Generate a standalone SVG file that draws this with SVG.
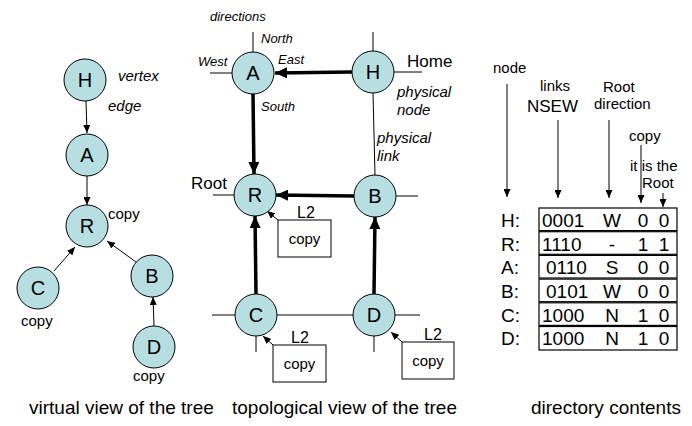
<svg xmlns="http://www.w3.org/2000/svg" width="692" height="426" viewBox="0 0 692 426">
  <defs>
    <marker id="thin" markerUnits="userSpaceOnUse" markerWidth="8" markerHeight="7" refX="8" refY="3.5" orient="auto">
      <path d="M0,0 L8,3.5 L0,7 z" fill="#000"/>
    </marker>
    <marker id="thick" markerUnits="userSpaceOnUse" markerWidth="12" markerHeight="11" refX="12" refY="5.5" orient="auto">
      <path d="M0,0 L12,5.5 L0,11 z" fill="#000"/>
    </marker>
  </defs>
  <style>
    text { font-family: "Liberation Sans", Arial, sans-serif; fill: #000; }
    .node circle { fill: #b7dfe2; stroke: #000; stroke-width: 1; }
    .node text { font-size: 20px; text-anchor: middle; }
    .lbl { font-size: 15px; }
    .it { font-size: 15px; font-style: italic; }
    .dir { font-size: 13px; font-style: italic; }
    .big { font-size: 17px; }
    .l2 { font-size: 16px; }
    .cap { font-size: 19px; }
    .cell { font-size: 19px; }
    .thinArrow { stroke: #000; stroke-width: 1; fill: none; marker-end: url(#thin); }
    .thickArrow { stroke: #000; stroke-width: 3.5; fill: none; marker-end: url(#thick); }
    .link { stroke: #000; stroke-width: 1; fill: none; }
    .box { fill: #fff; stroke: #000; stroke-width: 1; }
    .row { fill: #fff; stroke: #000; stroke-width: 1.2; }
  </style>

  <rect width="692" height="426" fill="#fff"/>

  <!-- Virtual tree: edges -->
  <g id="virtual-edges">
    <line class="thinArrow" x1="86" y1="101" x2="87" y2="133"/>
    <line class="thinArrow" x1="87" y1="176" x2="87" y2="205"/>
    <line class="thinArrow" x1="54" y1="271" x2="75" y2="247"/>
    <line class="thinArrow" x1="136" y1="262" x2="107" y2="241"/>
    <line class="thinArrow" x1="154" y1="326" x2="153" y2="297"/>
  </g>

  <!-- Virtual tree: vertices -->
  <g id="v-H" class="node"><circle cx="85" cy="80" r="21"/><text x="85" y="87">H</text></g>
  <g id="v-A" class="node"><circle cx="87" cy="155" r="21"/><text x="87" y="162">A</text></g>
  <g id="v-R" class="node"><circle cx="87" cy="226" r="21"/><text x="87" y="233">R</text></g>
  <g id="v-C" class="node"><circle cx="38" cy="288" r="21"/><text x="38" y="295">C</text></g>
  <g id="v-B" class="node"><circle cx="152" cy="276" r="21"/><text x="152" y="283">B</text></g>
  <g id="v-D" class="node"><circle cx="154" cy="347" r="21"/><text x="154" y="354">D</text></g>

  <g id="virtual-labels">
    <text class="it" x="118" y="81">vertex</text>
    <text class="it" x="108" y="111">edge</text>
    <text class="lbl" x="108" y="219">copy</text>
    <text class="lbl" x="21" y="326">copy</text>
    <text class="lbl" x="133" y="381">copy</text>
  </g>

  <!-- Topological view: physical links and stubs -->
  <g id="physical-links">
    <line class="link" x1="253" y1="32" x2="253" y2="52"/>
    <line class="link" x1="210" y1="73" x2="232" y2="73"/>
    <line class="link" x1="373" y1="32" x2="373" y2="51"/>
    <line class="link" x1="394" y1="72" x2="422" y2="72"/>
    <line class="link" x1="373" y1="93" x2="375" y2="175"/>
    <line class="link" x1="213" y1="195" x2="234" y2="195"/>
    <line class="link" x1="396" y1="196" x2="418" y2="196"/>
    <line class="link" x1="212" y1="315" x2="235" y2="315"/>
    <line class="link" x1="256" y1="336" x2="256" y2="352"/>
    <line class="link" x1="277" y1="315" x2="353" y2="315"/>
    <line class="link" x1="395" y1="315" x2="420" y2="315"/>
    <line class="link" x1="374" y1="336" x2="374" y2="352"/>
  </g>

  <!-- Topological view: tree edges (toward root) -->
  <g id="tree-edges">
    <line class="thickArrow" x1="352" y1="72" x2="275" y2="73"/>
    <line class="thickArrow" x1="253" y1="94" x2="254" y2="174"/>
    <line class="thickArrow" x1="354" y1="196" x2="276" y2="195"/>
    <line class="thickArrow" x1="256" y1="294" x2="255" y2="216"/>
    <line class="thickArrow" x1="374" y1="294" x2="375" y2="217"/>
    <line class="thinArrow" x1="278" y1="220" x2="267" y2="211"/>
    <line class="thinArrow" x1="273" y1="345" x2="263" y2="336"/>
    <line class="thinArrow" x1="402" y1="342" x2="391" y2="332"/>
  </g>

  <!-- Topological view: physical nodes -->
  <g id="t-A" class="node"><circle cx="253" cy="73" r="21"/><text x="253" y="80">A</text></g>
  <g id="t-H" class="node"><circle cx="373" cy="72" r="21"/><text x="373" y="79">H</text></g>
  <g id="t-R" class="node"><circle cx="255" cy="195" r="21"/><text x="255" y="202">R</text></g>
  <g id="t-B" class="node"><circle cx="375" cy="196" r="21"/><text x="375" y="203">B</text></g>
  <g id="t-C" class="node"><circle cx="256" cy="315" r="21"/><text x="256" y="322">C</text></g>
  <g id="t-D" class="node"><circle cx="374" cy="315" r="21"/><text x="374" y="322">D</text></g>

  <!-- L2 copy boxes -->
  <g id="copy-R">
    <rect class="box" x="278" y="220" width="53" height="37"/>
    <text class="lbl" x="304.5" y="244" text-anchor="middle">copy</text>
    <text class="l2" x="297" y="218">L2</text>
  </g>
  <g id="copy-C">
    <rect class="box" x="273" y="345" width="53" height="37"/>
    <text class="lbl" x="299.5" y="369" text-anchor="middle">copy</text>
    <text class="l2" x="291" y="343">L2</text>
  </g>
  <g id="copy-D">
    <rect class="box" x="402" y="342" width="52" height="37"/>
    <text class="lbl" x="428" y="366" text-anchor="middle">copy</text>
    <text class="l2" x="424" y="340">L2</text>
  </g>

  <g id="topo-labels">
    <text class="dir" x="210" y="21">directions</text>
    <text class="dir" x="261" y="43">North</text>
    <text class="dir" x="198" y="66">West</text>
    <text class="dir" x="278" y="64">East</text>
    <text class="dir" x="261" y="111">South</text>
    <text class="big" x="407" y="67">Home</text>
    <text class="it" x="397" y="97">physical</text>
    <text class="it" x="397" y="115">node</text>
    <text class="it" x="377" y="143">physical</text>
    <text class="it" x="377" y="161">link</text>
    <text class="big" x="191" y="189">Root</text>
  </g>

  <!-- Directory table header -->
  <g id="table-header">
    <text class="lbl" x="493" y="73">node</text>
    <text class="lbl" x="540" y="91">links</text>
    <text class="big" x="527" y="112">NSEW</text>
    <text class="lbl" x="603" y="92">Root</text>
    <text class="lbl" x="594" y="109">direction</text>
    <text class="lbl" x="629" y="141">copy</text>
    <text class="lbl" x="630" y="171">it is the</text>
    <text class="lbl" x="642" y="188">Root</text>
    <line class="thinArrow" x1="507" y1="84" x2="507" y2="197"/>
    <line class="thinArrow" x1="558" y1="120" x2="558" y2="198"/>
    <line class="thinArrow" x1="609" y1="120" x2="609" y2="198"/>
    <line class="thinArrow" x1="641" y1="145" x2="641" y2="203"/>
    <line class="thinArrow" x1="663" y1="193" x2="663" y2="207"/>
  </g>

  <!-- Directory table rows: one box per node entry -->
  <g id="table-rows">
    <rect class="row" x="539" y="208" width="138" height="22.6"/>
    <rect class="row" x="539" y="231.7" width="138" height="22.6"/>
    <rect class="row" x="539" y="255.4" width="138" height="22.6"/>
    <rect class="row" x="539" y="279.1" width="138" height="22.6"/>
    <rect class="row" x="539" y="302.8" width="138" height="22.6"/>
    <rect class="row" x="539" y="326.5" width="138" height="23.5"/>

    <text class="cell" x="501" y="227">H:</text>
    <text class="cell" x="542" y="227">0001</text>
    <text class="cell" x="612" y="227" text-anchor="middle">W</text>
    <text class="cell" x="643" y="227" text-anchor="middle">0</text>
    <text class="cell" x="664" y="227" text-anchor="middle">0</text>

    <text class="cell" x="501" y="251">R:</text>
    <text class="cell" x="542" y="251">1110</text>
    <text class="cell" x="612" y="251" text-anchor="middle">-</text>
    <text class="cell" x="643" y="251" text-anchor="middle">1</text>
    <text class="cell" x="664" y="251" text-anchor="middle">1</text>

    <text class="cell" x="501" y="274">A:</text>
    <text class="cell" x="546" y="274">0110</text>
    <text class="cell" x="612" y="274" text-anchor="middle">S</text>
    <text class="cell" x="643" y="274" text-anchor="middle">0</text>
    <text class="cell" x="664" y="274" text-anchor="middle">0</text>

    <text class="cell" x="501" y="298">B:</text>
    <text class="cell" x="546" y="298">0101</text>
    <text class="cell" x="612" y="298" text-anchor="middle">W</text>
    <text class="cell" x="643" y="298" text-anchor="middle">0</text>
    <text class="cell" x="664" y="298" text-anchor="middle">0</text>

    <text class="cell" x="501" y="322">C:</text>
    <text class="cell" x="542" y="322">1000</text>
    <text class="cell" x="612" y="322" text-anchor="middle">N</text>
    <text class="cell" x="643" y="322" text-anchor="middle">1</text>
    <text class="cell" x="664" y="322" text-anchor="middle">0</text>

    <text class="cell" x="501" y="345">D:</text>
    <text class="cell" x="542" y="345">1000</text>
    <text class="cell" x="612" y="345" text-anchor="middle">N</text>
    <text class="cell" x="643" y="345" text-anchor="middle">1</text>
    <text class="cell" x="664" y="345" text-anchor="middle">0</text>
  </g>

  <!-- Captions -->
  <g id="captions">
    <text class="cap" x="29" y="414">virtual view of the tree</text>
    <text class="cap" x="232" y="414">topological view of the tree</text>
    <text class="cap" x="531" y="414">directory contents</text>
  </g>
</svg>
